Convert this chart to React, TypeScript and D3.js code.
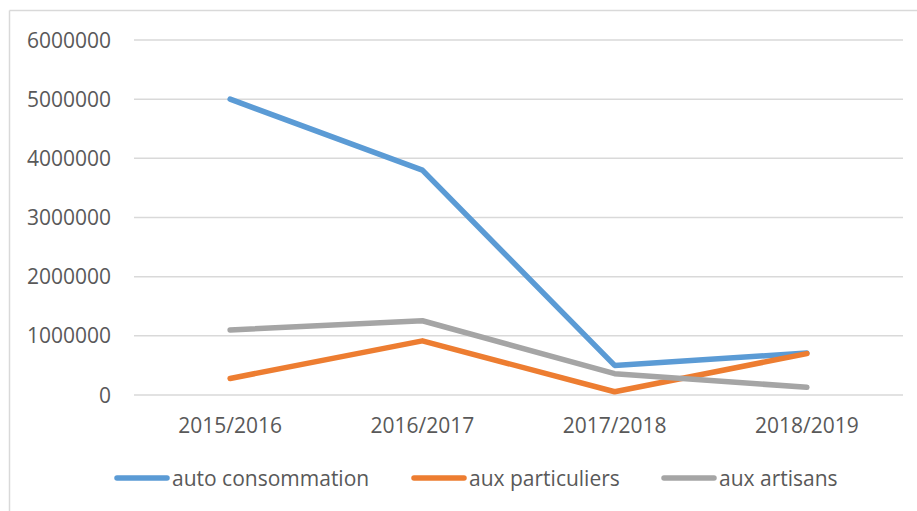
import React from "react";
import * as d3 from "d3";

const categories = ["2015/2016", "2016/2017", "2017/2018", "2018/2019"];
const seriesNames = ["auto consommation", "aux particuliers", "aux artisans"];
const autoConsommation = [5000000, 3800000, 500000, 710000];
const auxParticuliers = [280000, 915000, 55000, 700000];
const auxArtisans = [1100000, 1255000, 360000, 130000];
const seriesColors = ["#5b9bd5", "#ed7d31", "#a5a5a5"];
const yTicks = [0, 1000000, 2000000, 3000000, 4000000, 5000000, 6000000];

const W = 917;
const H = 511;
const FONT = "'Open Sans', sans-serif";
const TXT = "#595959";

export default function App() {
  const x = d3.scaleBand<string>().domain(categories).range([134, 903]);
  const y = d3.scaleLinear().domain([0, 6000000]).range([395, 40]);
  const line = d3
    .line<number>()
    .x((_, i) => (x(categories[i]) as number) + x.bandwidth() / 2)
    .y((d) => y(d));
  const all = [autoConsommation, auxParticuliers, auxArtisans];
  const legendX = [115, 412, 662];

  return (
    <svg
      width={W}
      height={H}
      style={{ position: "absolute", left: 0, top: 0, background: "#fff" }}
    >
      <rect x={0} y={0} width={W} height={H} fill="#fff" />
      <line x1={9.5} y1={10.5} x2={W} y2={10.5} stroke="#d9d9d9" strokeWidth={1.5} />
      <line x1={9.5} y1={10.5} x2={9.5} y2={H} stroke="#d9d9d9" strokeWidth={1.5} />
      {yTicks.map((t) => (
        <g key={t}>
          <line x1={134} x2={903} y1={y(t)} y2={y(t)} stroke="#d9d9d9" strokeWidth={1.5} />
          <text
            x={111}
            y={y(t)}
            dy="0.36em"
            textAnchor="end"
            fontFamily={FONT}
            fontSize={21}
            fill={TXT}
          >
            {t}
          </text>
        </g>
      ))}
      {categories.map((c) => (
        <text
          key={c}
          x={(x(c) as number) + x.bandwidth() / 2}
          y={433}
          textAnchor="middle"
          fontFamily={FONT}
          fontSize={21}
          fill={TXT}
        >
          {c}
        </text>
      ))}
      {all.map((s, i) => (
        <path
          key={i}
          d={line(s) || ""}
          fill="none"
          stroke={seriesColors[i]}
          strokeWidth={5.5}
          strokeLinecap="round"
          strokeLinejoin="round"
        />
      ))}
      {seriesNames.map((n, i) => (
        <g key={n}>
          <line
            x1={legendX[i] + 2}
            x2={legendX[i] + 52}
            y1={478}
            y2={478}
            stroke={seriesColors[i]}
            strokeWidth={5.5}
            strokeLinecap="round"
          />
          <text
            x={legendX[i] + 57}
            y={478}
            dy="0.36em"
            fontFamily={FONT}
            fontSize={21}
            fill={TXT}
          >
            {n}
          </text>
        </g>
      ))}
    </svg>
  );
}
